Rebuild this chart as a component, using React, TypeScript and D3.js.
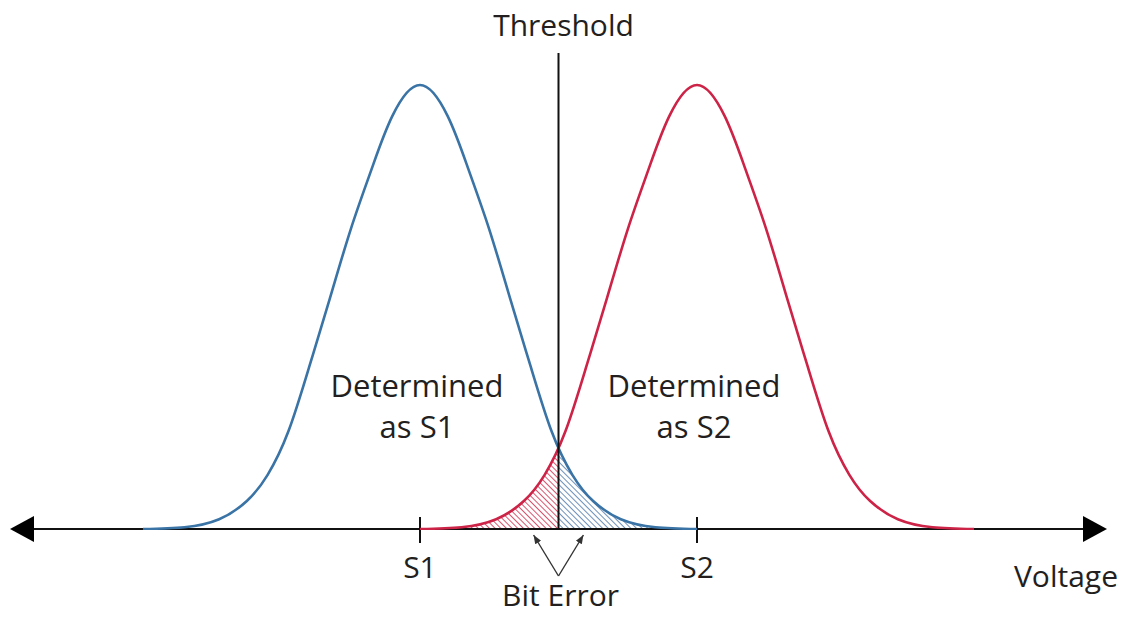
import * as d3 from "d3";
import React from "react";

// symmetric bell profile: offset from the mean (volts) -> height (fraction of peak)
const profileOffsets = [0, 0.2, 0.35, 0.5, 0.65, 0.8, 0.95, 1.1, 1.25, 1.45, 1.7, 2.0];
const profileHeights = [1, 0.93, 0.81, 0.675, 0.52, 0.365, 0.22, 0.122, 0.063, 0.022, 0.004, 0];

const signalNames = ["S1", "S2"];
const signalMeans = [-1, 1];
const signalColors = ["#3a73a5", "#cc2347"];
const hatchColors = ["#6e92bb", "#d8566f"];
const regionLabels = [
  ["Determined", "as S1"],
  ["Determined", "as S2"],
];

const thresholdValue = 0;
const axisDomain = [-3.96, 3.96];

const W = 1132;
const H = 617;
const FONT = "'Open Sans', 'Noto Sans', sans-serif";
const INK = "#231f20";

type Pt = { v: number; h: number };

const App: React.FC = () => {
  const x = d3.scaleLinear().domain(axisDomain).range([10, 1107]);
  const y = d3.scaleLinear().domain([0, 1]).range([529, 85]);
  const axisY = y(0);

  const curvePoints = (mean: number): Pt[] => {
    const pts: Pt[] = [];
    for (let i = profileOffsets.length - 1; i > 0; i--) {
      pts.push({ v: mean - profileOffsets[i], h: profileHeights[i] });
    }
    profileOffsets.forEach((o, i) => pts.push({ v: mean + o, h: profileHeights[i] }));
    return pts;
  };

  const line = d3
    .line<Pt>()
    .x((d) => x(d.v))
    .y((d) => y(d.h))
    .curve(d3.curveNatural);

  const area = d3
    .area<Pt>()
    .x((d) => x(d.v))
    .y0(axisY)
    .y1((d) => y(d.h))
    .curve(d3.curveNatural);

  const tx = x(thresholdValue);
  const arrowSize = 13;

  return (
    <div style={{ position: "absolute", left: 0, top: 0 }}>
      <svg width={W} height={H} style={{ display: "block", background: "#fff" }}>
        <defs>
          {hatchColors.map((c, i) => (
            <pattern
              key={i}
              id={`hatch${i}`}
              patternUnits="userSpaceOnUse"
              width={4}
              height={4}
              patternTransform="rotate(-45)"
            >
              <line x1={0} y1={0} x2={0} y2={4} stroke={c} strokeWidth={2} />
            </pattern>
          ))}
          <clipPath id="clipLeft">
            <rect x={0} y={0} width={tx} height={axisY} />
          </clipPath>
          <clipPath id="clipRight">
            <rect x={tx} y={0} width={W - tx} height={axisY} />
          </clipPath>
          <clipPath id="clipAbove">
            <rect x={0} y={0} width={W} height={axisY + 1} />
          </clipPath>
          <marker
            id="head"
            viewBox="0 0 10 10"
            refX={9}
            refY={5}
            markerWidth={7}
            markerHeight={7}
            orient="auto"
          >
            <path d="M0,1.5 L9,5 L0,8.5 Z" fill="#333" />
          </marker>
        </defs>

        {/* bit error regions: S2 spilling left of the threshold, S1 spilling right */}
        <path
          d={area(curvePoints(signalMeans[1])) || ""}
          fill="url(#hatch1)"
          clipPath="url(#clipLeft)"
        />
        <path
          d={area(curvePoints(signalMeans[0])) || ""}
          fill="url(#hatch0)"
          clipPath="url(#clipRight)"
        />

        {/* axis */}
        <line x1={x(axisDomain[0]) + 20} x2={x(axisDomain[1]) - 20} y1={axisY} y2={axisY} stroke="#111" strokeWidth={2} />
        <path
          d={`M${x(axisDomain[0])},${axisY} L${x(axisDomain[0]) + 24},${axisY - arrowSize} L${x(axisDomain[0]) + 24},${axisY + arrowSize} Z`}
          fill="#000"
        />
        <path
          d={`M${x(axisDomain[1])},${axisY} L${x(axisDomain[1]) - 24},${axisY - arrowSize} L${x(axisDomain[1]) - 24},${axisY + arrowSize} Z`}
          fill="#000"
        />
        {signalMeans.map((m, i) => (
          <g key={signalNames[i]}>
            <line x1={x(m)} x2={x(m)} y1={axisY - 12} y2={axisY + 14} stroke="#111" strokeWidth={2} />
            <text x={x(m)} y={axisY + 49} textAnchor="middle" fontFamily={FONT} fontSize={30} fill={INK}>
              {signalNames[i]}
            </text>
          </g>
        ))}

        {/* distributions */}
        {signalMeans.map((m, i) => (
          <path
            key={`c${i}`}
            d={line(curvePoints(m)) || ""}
            fill="none"
            stroke={signalColors[i]}
            strokeWidth={2.6}
            clipPath="url(#clipAbove)"
          />
        ))}

        {/* threshold */}
        <line x1={tx} x2={tx} y1={53} y2={axisY} stroke="#111" strokeWidth={2} />
        <text x={tx + 5} y={36} textAnchor="middle" fontFamily={FONT} fontSize={30} fill={INK}>
          Threshold
        </text>

        {/* region labels */}
        {regionLabels.map((lines, i) => (
          <text
            key={`r${i}`}
            x={x(signalMeans[i]) - 3}
            y={397}
            textAnchor="middle"
            fontFamily={FONT}
            fontSize={31}
            fill={INK}
          >
            {lines.map((t, j) => (
              <tspan key={j} x={x(signalMeans[i]) - 3} dy={j === 0 ? 0 : 41}>
                {t}
              </tspan>
            ))}
          </text>
        ))}

        {/* bit error callout */}
        {[-0.18, 0.18].map((o) => (
          <line
            key={o}
            x1={tx}
            y1={axisY + 47}
            x2={x(thresholdValue + o)}
            y2={axisY + 6}
            stroke="#333"
            strokeWidth={1.4}
            markerEnd="url(#head)"
          />
        ))}
        <text x={tx + 2} y={606} textAnchor="middle" fontFamily={FONT} fontSize={30} fill={INK}>
          Bit Error
        </text>

        <text x={1118} y={587} textAnchor="end" fontFamily={FONT} fontSize={30} fill={INK}>
          Voltage
        </text>
      </svg>
    </div>
  );
};

export default App;
